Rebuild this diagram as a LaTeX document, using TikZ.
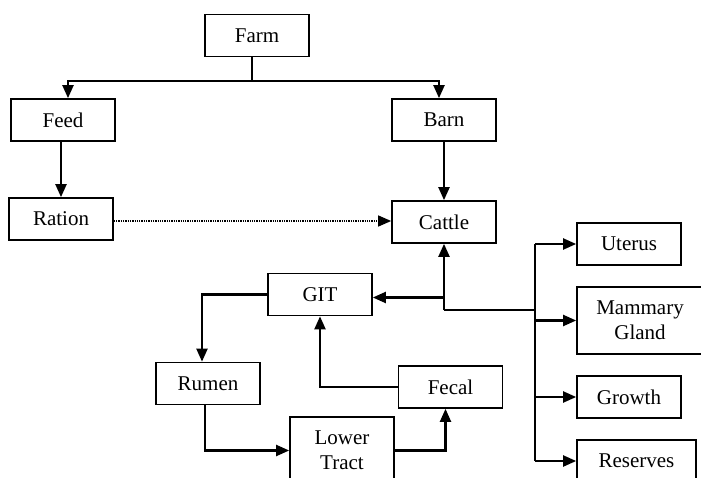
\documentclass[tikz,border=0pt]{standalone}
\usepackage{fontspec}
\setmainfont{Liberation Serif}
\usetikzlibrary{arrows.meta}
\tikzset{
  box/.style={draw, line width=1.7pt, minimum width=104pt, minimum height=42pt,
    inner sep=2pt, align=center, font=\fontsize{21}{25}\selectfont},
  arr/.style={line width=2.1pt, -{Triangle[length=13pt,width=11pt]}},
  wire/.style={line width=2.1pt},
}
\begin{document}
\begin{tikzpicture}[x=1pt,y=-1pt]
  \useasboundingbox (0,0) rectangle (701,478);
  \clip (0,0) rectangle (701,478);

  % Boxes
  \node[box] (farm) at (257,35.5) {Farm};
  \node[box] (feed) at (63,120) {Feed};
  \node[box] (ration) at (61,219) {Ration};
  \node[box] (barn) at (444,120) {Barn};
  \node[box] (cattle) at (444,222) {Cattle};
  \node[box] (git) at (320,294.5) {GIT};
  \node[box] (rumen) at (208,383.5) {Rumen};
  \node[box] (fecal) at (450.5,387) {Fecal};
  \node[box, minimum height=67pt] (lower) at (342,450.5) {Lower\\Tract};
  \node[box] (uterus) at (629,244) {Uterus};
  \node[box, minimum width=126pt, minimum height=67pt] (mammary) at (640,320.5) {Mammary\\Gland};
  \node[box] (growth) at (629,397) {Growth};
  \node[box, minimum width=119pt] (reserves) at (636.5,461) {Reserves};

  % Junctions
  \coordinate (fork) at (252,81);
  \coordinate (hub) at (444,310);
  \coordinate (bus) at (535,310);

  % Farm branches
  \draw[wire] (farm.south -| fork) -- (fork);
  \draw[arr] (fork) -| ([xshift=5pt]feed.north);
  \draw[arr] (fork) -| ([xshift=-5pt]barn.north);
  \draw[arr] ([xshift=-2pt]feed.south) -- ([xshift=-2pt]feed.south |- ration.north);
  \draw[arr] (barn.south) -- (cattle.north);
  \draw[arr, line width=1.3pt, densely dotted] ([yshift=-2pt]ration.east) -- ([yshift=-2pt]ration.east -| cattle.west);

  % Cattle outputs
  \draw[arr] (hub) -- (cattle.south);
  \draw[arr] ([yshift=-3pt]cattle.south |- git) -- ([yshift=-3pt]git.east);
  \draw[wire] (hub) -- (bus);
  \draw[wire] (bus |- uterus) -- (bus |- reserves);
  \foreach \organ in {uterus, mammary, growth, reserves}
    \draw[arr] (bus |- \organ) -- (\organ.west);

  % Digestive loop
  \draw[arr] (git.west) -| ([xshift=-6pt]rumen.north);
  \draw[arr] ([xshift=-3pt]rumen.south) |- (lower.west);
  \draw[arr] (lower.east) -| ([xshift=-5pt]fecal.south);
  \draw[arr] (fecal.west) -| (git.south);
\end{tikzpicture}
\end{document}
